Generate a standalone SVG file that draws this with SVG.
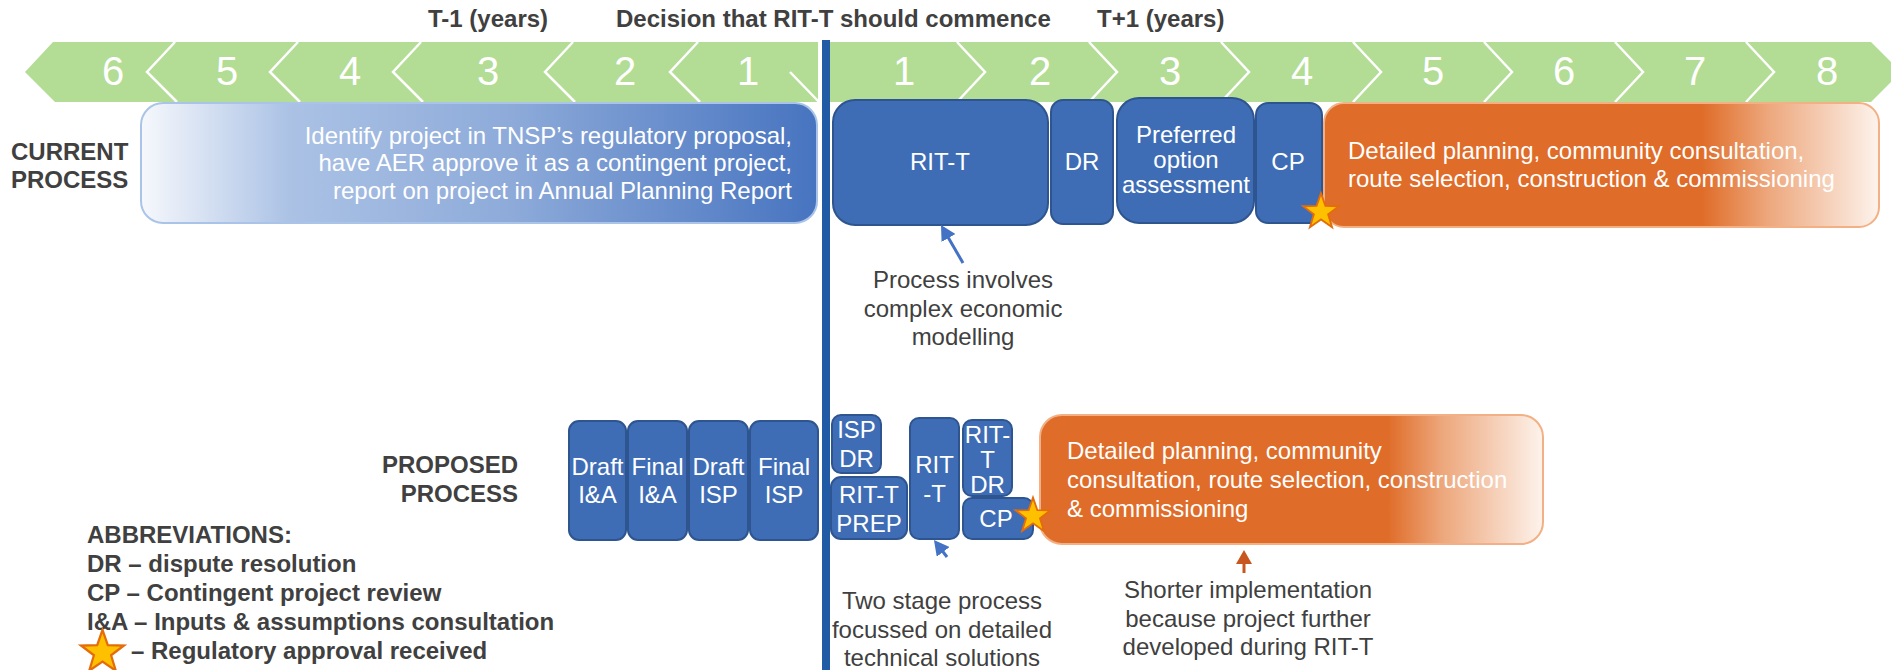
<svg xmlns="http://www.w3.org/2000/svg" width="1891" height="670" viewBox="0 0 1891 670">
<style>
text{font-family:"Liberation Sans",Arial,sans-serif;}
.lbl{fill:#404040;font-weight:bold;font-size:24px;}
.note{fill:#404040;font-size:24px;text-anchor:middle;}
.num{fill:#ffffff;font-size:40px;text-anchor:middle;}
.chev{fill:none;stroke:#ffffff;stroke-width:2.5;}
.box{fill:#3E6DB5;stroke:#2E558F;stroke-width:2;}
.bt{fill:#ffffff;font-size:24px;text-anchor:middle;}
.wt{fill:#ffffff;font-size:24px;}
.star{fill:#FFC000;stroke:#E46C0A;stroke-width:2;stroke-linejoin:miter;}
</style>
<defs>
<linearGradient id="gBlue" x1="0" y1="0" x2="1" y2="0">
<stop offset="0" stop-color="#F6F8FC"/>
<stop offset="0.22" stop-color="#ABC2E5"/>
<stop offset="0.55" stop-color="#8DAAD9"/>
<stop offset="1" stop-color="#4774C0"/>
</linearGradient>
<linearGradient id="gOrange1" x1="0" y1="0" x2="1" y2="0">
<stop offset="0" stop-color="#DF6C28"/>
<stop offset="0.68" stop-color="#DF6C28"/>
<stop offset="0.8" stop-color="#EDA77C"/>
<stop offset="1" stop-color="#FDF3EC"/>
</linearGradient>
<linearGradient id="gOrange2" x1="0" y1="0" x2="1" y2="0">
<stop offset="0" stop-color="#DF6C28"/>
<stop offset="0.69" stop-color="#DF6C28"/>
<stop offset="0.8" stop-color="#EDA77C"/>
<stop offset="1" stop-color="#FDF3EC"/>
</linearGradient>
<polygon id="starShape" points="0,-20 4.70,-6.47 19.02,-6.18 7.61,2.47 11.76,16.18 0,8 -11.76,16.18 -7.61,2.47 -19.02,-6.18 -4.70,-6.47"/>
<marker id="arrBlue" markerUnits="userSpaceOnUse" markerWidth="16" markerHeight="16" refX="11" refY="8" orient="auto">
<path d="M0,0 L15,8 L0,16 z" fill="#4472C4"/>
</marker>
<marker id="arrOrange" markerUnits="userSpaceOnUse" markerWidth="16" markerHeight="16" refX="10" refY="8" orient="auto">
<path d="M0,0 L14,8 L0,16 z" fill="#C8561F"/>
</marker>
</defs>

<g id="timeline">
<polygon points="53,42 818,42 818,102 55,102 25,72" fill="#B3DC95"/>
<polygon points="830,42 1871,42 1901,72 1871,102 830,102" fill="#B3DC95"/>
<polyline class="chev" points="175,42 147,72 177,102"/>
<polyline class="chev" points="298,42 270,72 300,102"/>
<polyline class="chev" points="421,42 393,72 423,102"/>
<polyline class="chev" points="573,42 545,72 575,102"/>
<polyline class="chev" points="698,42 670,72 700,102"/>
<polyline class="chev" points="790,72 819,102"/>
<polyline class="chev" points="957,42 985,72 957,102"/>
<polyline class="chev" points="1089,42 1117,72 1089,102"/>
<polyline class="chev" points="1221,42 1249,72 1221,102"/>
<polyline class="chev" points="1353,42 1381,72 1353,102"/>
<polyline class="chev" points="1484,42 1512,72 1484,102"/>
<polyline class="chev" points="1615,42 1643,72 1615,102"/>
<polyline class="chev" points="1746,42 1774,72 1746,102"/>
<text class="num" x="113" y="85">6</text>
<text class="num" x="227" y="85">5</text>
<text class="num" x="350" y="85">4</text>
<text class="num" x="488" y="85">3</text>
<text class="num" x="625" y="85">2</text>
<text class="num" x="748" y="85">1</text>
<text class="num" x="904" y="85">1</text>
<text class="num" x="1040" y="85">2</text>
<text class="num" x="1170" y="85">3</text>
<text class="num" x="1302" y="85">4</text>
<text class="num" x="1433" y="85">5</text>
<text class="num" x="1564" y="85">6</text>
<text class="num" x="1695" y="85">7</text>
<text class="num" x="1827" y="85">8</text>
</g>

<g id="headings">
<text class="lbl" x="428" y="27">T-1 (years)</text>
<text class="lbl" x="616" y="27">Decision that RIT-T should commence</text>
<text class="lbl" x="1097" y="27">T+1 (years)</text>
<text class="lbl" x="11" y="160">CURRENT</text>
<text class="lbl" x="11" y="188">PROCESS</text>
<text class="lbl" x="518" y="473" text-anchor="end">PROPOSED</text>
<text class="lbl" x="518" y="502" text-anchor="end">PROCESS</text>
</g>

<g id="current-identify">
<rect x="141" y="103" width="676" height="120" rx="22" fill="url(#gBlue)" stroke="#A9C4E8" stroke-width="2"/>
<text class="wt" x="792" y="144" text-anchor="end">Identify project in TNSP’s regulatory proposal,</text>
<text class="wt" x="792" y="171" text-anchor="end">have AER approve it as a contingent project,</text>
<text class="wt" x="792" y="199" text-anchor="end">report on project in Annual Planning Report</text>
</g>
<g id="current-ritt">
<rect class="box" x="833" y="100" width="215" height="125" rx="22"/>
<text class="bt" x="940" y="170">RIT-T</text>
</g>
<g id="current-dr">
<rect class="box" x="1051" y="100" width="62" height="124" rx="12"/>
<text class="bt" x="1082" y="170">DR</text>
</g>
<g id="current-poa">
<rect class="box" x="1117" y="98" width="137" height="125" rx="22"/>
<text class="bt" x="1186" y="143" font-size="21">Preferred</text>
<text class="bt" x="1186" y="168" font-size="21">option</text>
<text class="bt" x="1186" y="193" font-size="21">assessment</text>
</g>
<g id="current-cp">
<rect class="box" x="1256" y="103" width="66" height="120" rx="12"/>
<text class="bt" x="1288" y="170" font-size="22">CP</text>
</g>
<g id="current-implementation">
<rect x="1324" y="103" width="555" height="124" rx="20" fill="url(#gOrange1)" stroke="#F2B084" stroke-width="2"/>
<text class="wt" x="1348" y="159">Detailed planning, community consultation,</text>
<text class="wt" x="1348" y="187">route selection, construction &amp; commissioning</text>
</g>
<g id="current-star">
<use href="#starShape" class="star" transform="translate(1321,212) scale(0.94)"/>
</g>

<g id="decision-line">
<rect x="822" y="40" width="8" height="630" fill="#215BA5"/>
</g>

<g id="proposed-draft-ia">
<rect class="box" x="569" y="421" width="57" height="119" rx="10"/>
<text class="bt" x="597.5" y="475" font-size="21">Draft</text>
<text class="bt" x="597.5" y="503" font-size="21">I&amp;A</text>
</g>
<g id="proposed-final-ia">
<rect class="box" x="628" y="421" width="59" height="119" rx="10"/>
<text class="bt" x="657.5" y="475" font-size="23">Final</text>
<text class="bt" x="657.5" y="503" font-size="23">I&amp;A</text>
</g>
<g id="proposed-draft-isp">
<rect class="box" x="689" y="421" width="59" height="119" rx="10"/>
<text class="bt" x="718.5" y="475" font-size="23">Draft</text>
<text class="bt" x="718.5" y="503" font-size="23">ISP</text>
</g>
<g id="proposed-final-isp">
<rect class="box" x="750" y="421" width="68" height="119" rx="10"/>
<text class="bt" x="784" y="475">Final</text>
<text class="bt" x="784" y="503">ISP</text>
</g>
<g id="proposed-isp-dr">
<rect class="box" x="832" y="415" width="49" height="58" rx="9"/>
<text class="bt" x="856.5" y="438" font-size="23">ISP</text>
<text class="bt" x="856.5" y="467" font-size="23">DR</text>
</g>
<g id="proposed-ritt-prep">
<rect class="box" x="831" y="477" width="76" height="62" rx="10"/>
<text class="bt" x="869" y="503" font-size="23">RIT-T</text>
<text class="bt" x="869" y="532" font-size="23">PREP</text>
</g>
<g id="proposed-ritt">
<rect class="box" x="910" y="418" width="49" height="121" rx="9"/>
<text class="bt" x="934.5" y="473">RIT</text>
<text class="bt" x="934.5" y="502">-T</text>
</g>
<g id="proposed-ritt-dr">
<rect class="box" x="963" y="420" width="49" height="76" rx="9"/>
<text class="bt" x="987.5" y="443" font-size="20">RIT-</text>
<text class="bt" x="987.5" y="468" font-size="20">T</text>
<text class="bt" x="987.5" y="493" font-size="20">DR</text>
</g>
<g id="proposed-cp">
<rect class="box" x="963" y="498" width="70" height="41" rx="9"/>
<text class="bt" x="996" y="527" font-size="23">CP</text>
</g>
<g id="proposed-implementation">
<rect x="1040" y="415" width="503" height="129" rx="22" fill="url(#gOrange2)" stroke="#F2B084" stroke-width="2"/>
<text class="wt" x="1067" y="459">Detailed planning, community</text>
<text class="wt" x="1067" y="488">consultation, route selection, construction</text>
<text class="wt" x="1067" y="517">&amp; commissioning</text>
</g>
<g id="proposed-star">
<use href="#starShape" class="star" transform="translate(1033,516) scale(0.92)"/>
</g>

<g id="connectors">
<line x1="963" y1="263" x2="943" y2="228.5" stroke="#4472C4" stroke-width="3" marker-end="url(#arrBlue)"/>
<line x1="947" y1="557" x2="936.4" y2="543.2" stroke="#4472C4" stroke-width="3" marker-end="url(#arrBlue)"/>
<line x1="1244" y1="573" x2="1244" y2="554" stroke="#C8561F" stroke-width="3" marker-end="url(#arrOrange)"/>
</g>

<g id="note-current">
<text class="note" x="963" y="288">Process involves</text>
<text class="note" x="963" y="317">complex economic</text>
<text class="note" x="963" y="345">modelling</text>
</g>
<g id="note-two-stage">
<text class="note" x="942" y="609">Two stage process</text>
<text class="note" x="942" y="638">focussed on detailed</text>
<text class="note" x="942" y="666">technical solutions</text>
</g>
<g id="note-shorter">
<text class="note" x="1248" y="598">Shorter implementation</text>
<text class="note" x="1248" y="627">because project further</text>
<text class="note" x="1248" y="655">developed during RIT-T</text>
</g>

<g id="abbreviations">
<text class="lbl" x="87" y="543">ABBREVIATIONS:</text>
<text class="lbl" x="87" y="572">DR – dispute resolution</text>
<text class="lbl" x="87" y="601">CP – Contingent project review</text>
<text class="lbl" x="87" y="630">I&amp;A – Inputs &amp; assumptions consultation</text>
<use href="#starShape" class="star" transform="translate(102.5,652.5) scale(1.13)"/>
<text class="lbl" x="131" y="659">– Regulatory approval received</text>
</g>
</svg>
